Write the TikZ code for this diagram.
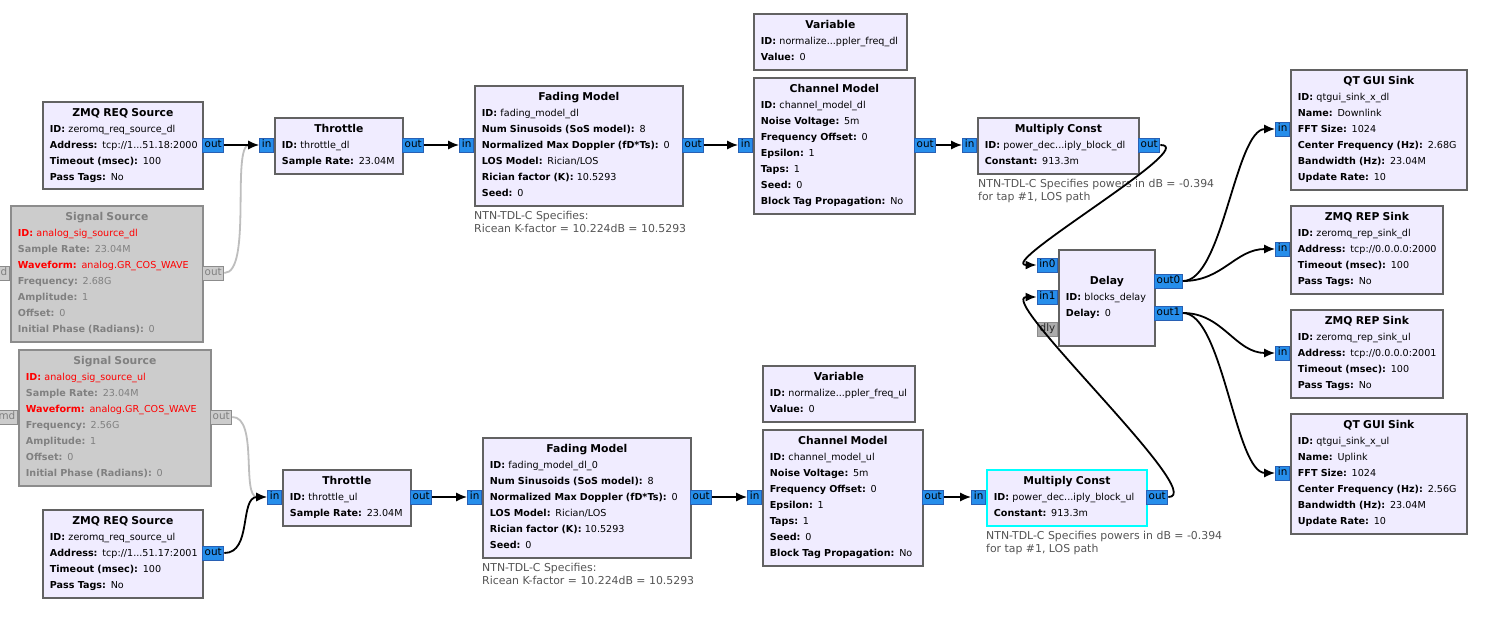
\documentclass[tikz,border=0pt]{standalone}
\usepackage{fontspec}
\setmainfont{DejaVu Sans}
\usetikzlibrary{arrows.meta}
\definecolor{blockFill}{RGB}{240,236,255}
\definecolor{blockEdge}{RGB}{98,98,98}
\definecolor{portFill}{RGB}{38,142,235}
\definecolor{portEdge}{RGB}{40,96,180}
\definecolor{offFill}{RGB}{204,204,204}
\definecolor{offEdge}{RGB}{140,140,140}
\definecolor{offText}{RGB}{128,128,128}
\definecolor{offWire}{RGB}{190,190,190}
\definecolor{msgFill}{RGB}{172,172,172}
\definecolor{noteGrey}{RGB}{85,85,85}
\definecolor{pickCyan}{RGB}{0,255,255}
\definecolor{warnRed}{RGB}{255,0,0}
\newcommand{\GrcFont}{\fontsize{9.6}{16}\selectfont}
\newcommand{\BlockTitle}[1]{\makebox[\hsize]{\rule[-2.6pt]{0pt}{9.4pt}\fontsize{10.8}{16}\selectfont\bfseries #1}}
\newcommand{\Param}[2]{\mbox{\rule[-2.6pt]{0pt}{9.4pt}\textbf{#1:} #2}}
\newcommand{\RedParam}[2]{\textcolor{warnRed}{\Param{#1}{#2}}}

\begin{document}
\begin{tikzpicture}[>=Latex, x=1pt, y=-1pt,
  blk/.style={draw=blockEdge,fill=blockFill,line width=1.8pt,anchor=north west,inner xsep=7pt,inner ysep=0pt,align=left,font=\GrcFont},
  offblk/.style={blk,draw=offEdge,fill=offFill,text=offText},
  port/.style={draw=portEdge,fill=portFill,line width=0.9pt,inner xsep=2.2pt,inner ysep=0pt,minimum height=14pt,text height=7.6pt,text depth=2pt,font=\fontsize{10.4}{11}\selectfont},
  offport/.style={port,draw=offEdge,fill=offFill,text=offText},
  msgport/.style={port,draw=offEdge,fill=msgFill,text=black!85},
  wire/.style={line width=1.8pt,-{Latex[length=11pt,width=9pt]}},
  offwire/.style={wire,draw=offWire},
  note/.style={anchor=north west,inner sep=0pt,align=left,text=noteGrey,font=\fontsize{10.9}{13}\selectfont}]
  \fill[white] (0,0) rectangle (1488,619);
  \useasboundingbox (0,0) rectangle (1488,619);
  \clip (0,0) rectangle (1488,619);

  % downlink
  \node[blk,text width=146pt,minimum height=87pt] (zmqdl) at (42,101) {\BlockTitle{ZMQ REQ Source}\\ \Param{ID}{zeromq\_req\_source\_dl}\\ \Param{Address}{tcp://1...51.18:2000}\\ \Param{Timeout (msec)}{100}\\ \Param{Pass Tags}{No}};
  \node[offblk,text width=178pt,minimum height=136pt] (sigdl) at (10,205) {\BlockTitle{Signal Source}\\ \RedParam{ID}{analog\_sig\_source\_dl}\\ \Param{Sample Rate}{23.04M}\\ \RedParam{Waveform}{analog.GR\_COS\_WAVE}\\ \Param{Frequency}{2.68G}\\ \Param{Amplitude}{1}\\ \Param{Offset}{0}\\ \Param{Initial Phase (Radians)}{0}};
  \node[blk,text width=114pt,minimum height=56pt] (thrdl) at (274,117) {\BlockTitle{Throttle}\\ \Param{ID}{throttle\_dl}\\ \Param{Sample Rate}{23.04M}};
  \node[blk,text width=194pt,minimum height=120pt] (fadedl) at (474,85) {\BlockTitle{Fading Model}\\ \Param{ID}{fading\_model\_dl}\\ \Param{Num Sinusoids (SoS model)}{8}\\ \Param{Normalized Max Doppler (fD*Ts)}{0}\\ \Param{LOS Model}{Rician/LOS}\\ \Param{Rician factor (K)}{10.5293}\\ \Param{Seed}{0}};
  \node[blk,text width=139pt,minimum height=56pt] (vardl) at (753,13) {\BlockTitle{Variable}\\ \Param{ID}{normalize...ppler\_freq\_dl}\\ \Param{Value}{0}};
  \node[blk,text width=147pt,minimum height=136pt] (chandl) at (753,77) {\BlockTitle{Channel Model}\\ \Param{ID}{channel\_model\_dl}\\ \Param{Noise Voltage}{5m}\\ \Param{Frequency Offset}{0}\\ \Param{Epsilon}{1}\\ \Param{Taps}{1}\\ \Param{Seed}{0}\\ \Param{Block Tag Propagation}{No}};
  \node[blk,text width=147pt,minimum height=56pt] (multdl) at (977,117) {\BlockTitle{Multiply Const}\\ \Param{ID}{power\_dec...iply\_block\_dl}\\ \Param{Constant}{913.3m}};
  \node[note] (notefadedl) at (474,211) {NTN-TDL-C Specifies:\\Ricean K-factor = 10.224dB = 10.5293};
  \node[note] (notemultdl) at (978,179) {NTN-TDL-C Specifies powers in dB = -0.394\\for tap \#1, LOS path};

  % delay and sinks
  \node[blk,text width=82pt,minimum height=96pt] (delay) at (1058,249) {\BlockTitle{Delay}\\ \Param{ID}{blocks\_delay}\\ \Param{Delay}{0}};
  \node[blk,text width=162pt,minimum height=120pt] (qtdl) at (1290,69) {\BlockTitle{QT GUI Sink}\\ \Param{ID}{qtgui\_sink\_x\_dl}\\ \Param{Name}{Downlink}\\ \Param{FFT Size}{1024}\\ \Param{Center Frequency (Hz)}{2.68G}\\ \Param{Bandwidth (Hz)}{23.04M}\\ \Param{Update Rate}{10}};
  \node[blk,text width=138pt,minimum height=88pt] (repdl) at (1290,205) {\BlockTitle{ZMQ REP Sink}\\ \Param{ID}{zeromq\_rep\_sink\_dl}\\ \Param{Address}{tcp://0.0.0.0:2000}\\ \Param{Timeout (msec)}{100}\\ \Param{Pass Tags}{No}};
  \node[blk,text width=138pt,minimum height=88pt] (repul) at (1290,309) {\BlockTitle{ZMQ REP Sink}\\ \Param{ID}{zeromq\_rep\_sink\_ul}\\ \Param{Address}{tcp://0.0.0.0:2001}\\ \Param{Timeout (msec)}{100}\\ \Param{Pass Tags}{No}};
  \node[blk,text width=162pt,minimum height=120pt] (qtul) at (1290,413) {\BlockTitle{QT GUI Sink}\\ \Param{ID}{qtgui\_sink\_x\_ul}\\ \Param{Name}{Uplink}\\ \Param{FFT Size}{1024}\\ \Param{Center Frequency (Hz)}{2.56G}\\ \Param{Bandwidth (Hz)}{23.04M}\\ \Param{Update Rate}{10}};

  % uplink
  \node[offblk,text width=178pt,minimum height=136pt] (sigul) at (18,349) {\BlockTitle{Signal Source}\\ \RedParam{ID}{analog\_sig\_source\_ul}\\ \Param{Sample Rate}{23.04M}\\ \RedParam{Waveform}{analog.GR\_COS\_WAVE}\\ \Param{Frequency}{2.56G}\\ \Param{Amplitude}{1}\\ \Param{Offset}{0}\\ \Param{Initial Phase (Radians)}{0}};
  \node[blk,text width=146pt,minimum height=88pt] (zmqul) at (42,509) {\BlockTitle{ZMQ REQ Source}\\ \Param{ID}{zeromq\_req\_source\_ul}\\ \Param{Address}{tcp://1...51.17:2001}\\ \Param{Timeout (msec)}{100}\\ \Param{Pass Tags}{No}};
  \node[blk,text width=114pt,minimum height=56pt] (thrul) at (282,469) {\BlockTitle{Throttle}\\ \Param{ID}{throttle\_ul}\\ \Param{Sample Rate}{23.04M}};
  \node[blk,text width=194pt,minimum height=120pt] (fadeul) at (482,437) {\BlockTitle{Fading Model}\\ \Param{ID}{fading\_model\_dl\_0}\\ \Param{Num Sinusoids (SoS model)}{8}\\ \Param{Normalized Max Doppler (fD*Ts)}{0}\\ \Param{LOS Model}{Rician/LOS}\\ \Param{Rician factor (K)}{10.5293}\\ \Param{Seed}{0}};
  \node[blk,text width=138pt,minimum height=56pt] (varul) at (762,365) {\BlockTitle{Variable}\\ \Param{ID}{normalize...ppler\_freq\_ul}\\ \Param{Value}{0}};
  \node[blk,text width=146pt,minimum height=136pt] (chanul) at (762,429) {\BlockTitle{Channel Model}\\ \Param{ID}{channel\_model\_ul}\\ \Param{Noise Voltage}{5m}\\ \Param{Frequency Offset}{0}\\ \Param{Epsilon}{1}\\ \Param{Taps}{1}\\ \Param{Seed}{0}\\ \Param{Block Tag Propagation}{No}};
  \node[blk,draw=pickCyan,text width=146pt,minimum height=56pt] (multul) at (986,469) {\BlockTitle{Multiply Const}\\ \Param{ID}{power\_dec...iply\_block\_ul}\\ \Param{Constant}{913.3m}};
  \node[note] (notefadeul) at (482,563) {NTN-TDL-C Specifies:\\Ricean K-factor = 10.224dB = 10.5293};
  \node[note] (notemultul) at (986,531) {NTN-TDL-C Specifies powers in dB = -0.394\\for tap \#1, LOS path};

  % ports
  \node[port,anchor=west] (zmqdlout) at (202,145) {out};
  \node[offport,anchor=east] (sigdlcmd) at (10,273) {cmd};
  \node[offport,anchor=west] (sigdlout) at (202,273) {out};
  \node[port,anchor=east] (thrdlin) at (274,145) {in};
  \node[port,anchor=west] (thrdlout) at (402,145) {out};
  \node[port,anchor=east] (fadedlin) at (474,145) {in};
  \node[port,anchor=west] (fadedlout) at (682,145) {out};
  \node[port,anchor=east] (chandlin) at (753,145) {in};
  \node[port,anchor=west] (chandlout) at (914,145) {out};
  \node[port,anchor=east] (multdlin) at (977,145) {in};
  \node[port,anchor=west] (multdlout) at (1138,145) {out};
  \node[port,anchor=east] (delayin0) at (1058,265) {in0};
  \node[port,anchor=east] (delayin1) at (1058,297) {in1};
  \node[msgport,anchor=east] (delaydly) at (1058,329) {dly};
  \node[port,anchor=west] (delayout0) at (1154,281) {out0};
  \node[port,anchor=west] (delayout1) at (1154,313) {out1};
  \node[port,anchor=east] (qtdlin) at (1290,129) {in};
  \node[port,anchor=east] (repdlin) at (1290,249) {in};
  \node[port,anchor=east] (repulin) at (1290,353) {in};
  \node[port,anchor=east] (qtulin) at (1290,473) {in};
  \node[offport,anchor=east] (sigulcmd) at (18,417) {cmd};
  \node[offport,anchor=west] (sigulout) at (210,417) {out};
  \node[port,anchor=west] (zmqulout) at (202,553) {out};
  \node[port,anchor=east] (thrulin) at (282,497) {in};
  \node[port,anchor=west] (thrulout) at (410,497) {out};
  \node[port,anchor=east] (fadeulin) at (482,497) {in};
  \node[port,anchor=west] (fadeulout) at (690,497) {out};
  \node[port,anchor=east] (chanulin) at (762,497) {in};
  \node[port,anchor=west] (chanulout) at (922,497) {out};
  \node[port,anchor=east] (multulin) at (986,497) {in};
  \node[port,anchor=west] (multulout) at (1146,497) {out};

  % connections
  \draw[offwire] (sigdlout.east) .. controls +(28,0) and +(-28,0) .. (thrdlin.west);
  \draw[offwire] (sigulout.east) .. controls +(26,0) and +(-26,0) .. (thrulin.west);
  \draw[wire] (zmqdlout) -- (thrdlin);
  \draw[wire] (thrdlout) -- (fadedlin);
  \draw[wire] (fadedlout) -- (chandlin);
  \draw[wire] (chandlout) -- (multdlin);
  \draw[wire] (multdlout.east) .. controls +(42,0) and +(-42,0) .. (delayin0.west);
  \draw[wire] (zmqulout.east) .. controls +(28,0) and +(-28,0) .. (thrulin.west);
  \draw[wire] (thrulout) -- (fadeulin);
  \draw[wire] (fadeulout) -- (chanulin);
  \draw[wire] (chanulout) -- (multulin);
  \draw[wire] (multulout.east) .. controls +(42,0) and +(-42,0) .. (delayin1.west);
  \draw[wire] (delayout0.east) .. controls +(40,0) and +(-40,0) .. (qtdlin.west);
  \draw[wire] (delayout0.east) .. controls +(40,0) and +(-40,0) .. (repdlin.west);
  \draw[wire] (delayout1.east) .. controls +(40,0) and +(-40,0) .. (repulin.west);
  \draw[wire] (delayout1.east) .. controls +(40,0) and +(-40,0) .. (qtulin.west);
\end{tikzpicture}
\end{document}
